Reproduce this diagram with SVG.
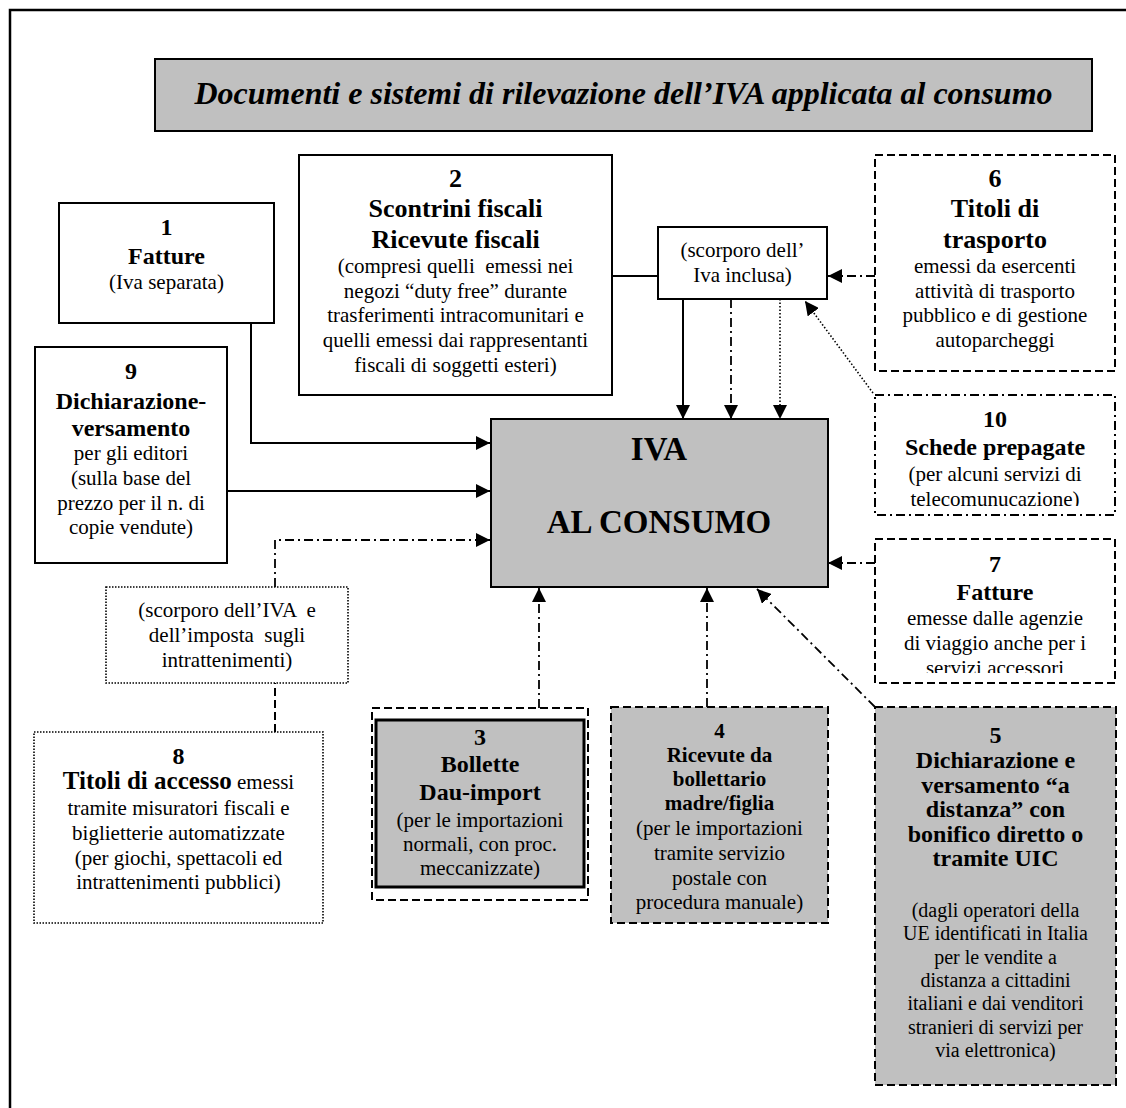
<svg xmlns="http://www.w3.org/2000/svg" width="1126" height="1108" viewBox="0 0 1126 1108">
<style>
text{font-family:"Liberation Serif","Times New Roman",serif;fill:#000;text-anchor:middle}
.b{font-weight:bold}
.box{fill:#fff;stroke:#000;stroke-width:2}
.gray{fill:#c0c0c0}
.dash{stroke-dasharray:8 4}
.dot{stroke-dasharray:1.5 1.5;stroke-width:1.6}
.dashdot{stroke-dasharray:9 4 2 4}
.ln{fill:none;stroke:#000;stroke-width:2}
.lndd{fill:none;stroke:#000;stroke-width:1.8;stroke-dasharray:9 4 2 4}
.lndot{fill:none;stroke:#000;stroke-width:1.6;stroke-dasharray:1.5 2}
.lndash{fill:none;stroke:#000;stroke-width:2;stroke-dasharray:8 4}
</style>
<defs>
<marker id="ah" markerUnits="userSpaceOnUse" markerWidth="14" markerHeight="14" refX="14" refY="7" orient="auto">
<path d="M0,0 L14,7 L0,14 z" fill="#000"/>
</marker>
<clipPath id="c10"><rect x="875" y="395" width="240" height="111"/></clipPath>
<clipPath id="c7"><rect x="875" y="539" width="240" height="134"/></clipPath>
</defs>
<rect width="1126" height="1108" fill="#fff"/>
<path d="M10,1120 V10 H1130" fill="none" stroke="#000" stroke-width="2.5"/>

<g id="title">
<rect x="155" y="59" width="937" height="72" class="box gray"/>
<text x="623.5" y="104" class="b" font-style="italic" font-size="32">Documenti e sistemi di rilevazione dell’IVA applicata al consumo</text>
</g>

<g id="connectors">
<path d="M251,323 V443 H490" class="ln" marker-end="url(#ah)"/>
<path d="M227,491 H490" class="ln" marker-end="url(#ah)"/>
<path d="M612,276 H658" class="ln"/>
<path d="M875,276 H828" class="lndd" marker-end="url(#ah)"/>
<path d="M683,299 V419" class="ln" marker-end="url(#ah)"/>
<path d="M731,299 V419" class="lndd" marker-end="url(#ah)"/>
<path d="M780,299 V419" class="lndot" marker-end="url(#ah)"/>
<path d="M873,393 L805,301" class="lndot" marker-end="url(#ah)"/>
<path d="M875,563 H828" class="lndd" marker-end="url(#ah)"/>
<path d="M875,707 L757,589" class="lndd" marker-end="url(#ah)"/>
<path d="M707,707 V588" class="lndd" marker-end="url(#ah)"/>
<path d="M539,708 V588" class="lndd" marker-end="url(#ah)"/>
<path d="M275,587 V540 H490" class="lndd" marker-end="url(#ah)"/>
<path d="M275,732 V683" class="lndash"/>
</g>

<g id="n1">
<rect x="59" y="203" width="215" height="120" class="box"/>
<text x="166.5" y="235" class="b" font-size="24">1</text>
<text x="166.5" y="264" class="b" font-size="24">Fatture</text>
<text x="166.5" y="289" font-size="21">(Iva separata)</text>
</g>

<g id="n2">
<rect x="299" y="155" width="313" height="240" class="box"/>
<text x="455.5" y="187" class="b" font-size="26">2</text>
<text x="455.5" y="217" class="b" font-size="26">Scontrini fiscali</text>
<text x="455.5" y="248" class="b" font-size="26">Ricevute fiscali</text>
<text x="455.5" y="273" font-size="21" xml:space="preserve">(compresi quelli  emessi nei</text>
<text x="455.5" y="298" font-size="21">negozi “duty free” durante</text>
<text x="455.5" y="322" font-size="21">trasferimenti intracomunitari e</text>
<text x="455.5" y="347" font-size="21">quelli emessi dai rappresentanti</text>
<text x="455.5" y="372" font-size="21">fiscali di soggetti esteri)</text>
</g>

<g id="nscorporo">
<rect x="658" y="227" width="169" height="72" class="box"/>
<text x="742.5" y="257" font-size="21">(scorporo dell’</text>
<text x="742.5" y="282" font-size="21">Iva inclusa)</text>
</g>

<g id="n6">
<rect x="875" y="155" width="240" height="216" class="box dash"/>
<text x="995" y="187" class="b" font-size="26">6</text>
<text x="995" y="217" class="b" font-size="26">Titoli di</text>
<text x="995" y="248" class="b" font-size="26">trasporto</text>
<text x="995" y="273" font-size="21">emessi da esercenti</text>
<text x="995" y="298" font-size="21">attività di trasporto</text>
<text x="995" y="322" font-size="21">pubblico e di gestione</text>
<text x="995" y="347" font-size="21">autoparcheggi</text>
</g>

<g id="n9">
<rect x="35" y="347" width="192" height="216" class="box"/>
<text x="131" y="379" class="b" font-size="24">9</text>
<text x="131" y="409" class="b" font-size="24">Dichiarazione-</text>
<text x="131" y="436" class="b" font-size="24">versamento</text>
<text x="131" y="460" font-size="21">per gli editori</text>
<text x="131" y="485" font-size="21">(sulla base del</text>
<text x="131" y="510" font-size="21">prezzo per il n. di</text>
<text x="131" y="534" font-size="21">copie vendute)</text>
</g>

<g id="niva">
<rect x="491" y="419" width="337" height="168" class="box gray" stroke-width="2.5"/>
<text x="659" y="460" class="b" font-size="33">IVA</text>
<text x="659" y="533" class="b" font-size="33">AL CONSUMO</text>
</g>

<g id="n10">
<rect x="875" y="395" width="240" height="120" class="box dashdot"/>
<g clip-path="url(#c10)">
<text x="995" y="427" class="b" font-size="24">10</text>
<text x="995" y="455" class="b" font-size="24">Schede prepagate</text>
<text x="995" y="481" font-size="21">(per alcuni servizi di</text>
<text x="995" y="506" font-size="21">telecomunucazione)</text>
</g>
</g>

<g id="n7">
<rect x="875" y="539" width="240" height="144" class="box dash"/>
<g clip-path="url(#c7)">
<text x="995" y="572" class="b" font-size="24">7</text>
<text x="995" y="600" class="b" font-size="24">Fatture</text>
<text x="995" y="625" font-size="21">emesse dalle agenzie</text>
<text x="995" y="650" font-size="21">di viaggio anche per i</text>
<text x="995" y="675" font-size="21">servizi accessori</text>
</g>
</g>

<g id="nscorporo2">
<rect x="106" y="587" width="242" height="96" class="box dot"/>
<text x="227" y="617" font-size="21" xml:space="preserve">(scorporo dell’IVA  e</text>
<text x="227" y="642" font-size="21" xml:space="preserve">dell’imposta  sugli</text>
<text x="227" y="667" font-size="21">intrattenimenti)</text>
</g>

<g id="n8">
<rect x="34" y="732" width="289" height="191" class="box dot"/>
<text x="178.5" y="764" class="b" font-size="24">8</text>
<text x="178.5" y="789"><tspan class="b" font-size="25">Titoli di accesso</tspan><tspan font-size="21"> emessi</tspan></text>
<text x="178.5" y="815" font-size="21">tramite misuratori fiscali e</text>
<text x="178.5" y="840" font-size="21">biglietterie automatizzate</text>
<text x="178.5" y="865" font-size="21">(per giochi, spettacoli ed</text>
<text x="178.5" y="889" font-size="21">intrattenimenti pubblici)</text>
</g>

<g id="n3">
<rect x="372" y="708" width="216" height="192" class="box dash"/>
<rect x="376" y="720" width="208" height="167" class="gray" stroke="#000" stroke-width="3"/>
<text x="480" y="745" class="b" font-size="24">3</text>
<text x="480" y="772" class="b" font-size="24">Bollette</text>
<text x="480" y="800" class="b" font-size="24">Dau-import</text>
<text x="480" y="827" font-size="21">(per le importazioni</text>
<text x="480" y="851" font-size="21">normali, con proc.</text>
<text x="480" y="875" font-size="21">meccanizzate)</text>
</g>

<g id="n4">
<rect x="611" y="707" width="217" height="216" class="box gray dash"/>
<text x="719.5" y="738" class="b" font-size="21">4</text>
<text x="719.5" y="762" class="b" font-size="21">Ricevute da</text>
<text x="719.5" y="786" class="b" font-size="21">bollettario</text>
<text x="719.5" y="810" class="b" font-size="21">madre/figlia</text>
<text x="719.5" y="835" font-size="21">(per le importazioni</text>
<text x="719.5" y="860" font-size="21">tramite servizio</text>
<text x="719.5" y="885" font-size="21">postale con</text>
<text x="719.5" y="909" font-size="21">procedura manuale)</text>
</g>

<g id="n5">
<rect x="875" y="707" width="241" height="378" class="box gray dash"/>
<text x="995.5" y="743" class="b" font-size="24">5</text>
<text x="995.5" y="768" class="b" font-size="24">Dichiarazione e</text>
<text x="995.5" y="793" class="b" font-size="24">versamento “a</text>
<text x="995.5" y="817" class="b" font-size="24">distanza” con</text>
<text x="995.5" y="842" class="b" font-size="24">bonifico diretto o</text>
<text x="995.5" y="866" class="b" font-size="24">tramite UIC</text>
<text x="995.5" y="917" font-size="20">(dagli operatori della</text>
<text x="995.5" y="940" font-size="20">UE identificati in Italia</text>
<text x="995.5" y="964" font-size="20">per le vendite a</text>
<text x="995.5" y="987" font-size="20">distanza a cittadini</text>
<text x="995.5" y="1010" font-size="20">italiani e dai venditori</text>
<text x="995.5" y="1034" font-size="20">stranieri di servizi per</text>
<text x="995.5" y="1057" font-size="20">via elettronica)</text>
</g>
</svg>
